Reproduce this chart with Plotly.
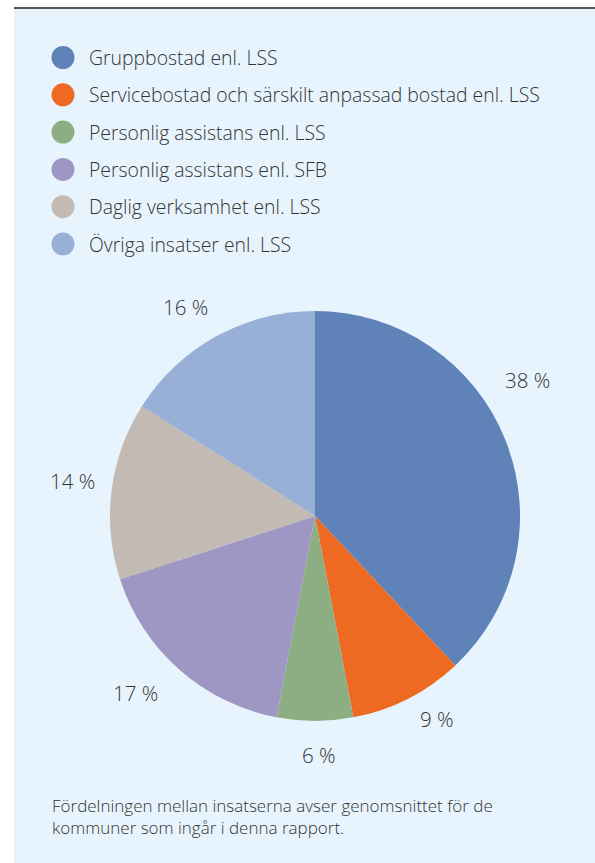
import math
import plotly.graph_objects as go

categories = [
    "Gruppbostad enl. LSS",
    "Servicebostad och särskilt anpassad bostad enl. LSS",
    "Personlig assistans enl. LSS",
    "Personlig assistans enl. SFB",
    "Daglig verksamhet enl. LSS",
    "Övriga insatser enl. LSS",
]
values = [38, 9, 6, 17, 14, 16]
colors = ["#5F82B8", "#EE6A22", "#8DAE82", "#9E97C4", "#C2BAB3", "#98B0D6"]
caption = ("Fördelningen mellan insatserna avser genomsnittet för de<br>"
           "kommuner som ingår i denna rapport.")

# label placement tweaks (layout only): angle nudge in degrees, distance from centre in px
label_nudge_deg = [-11, -4, -1, 4, 1, -3]
label_dist = [252, 237, 239, 252, 245, 246]

W, H = 595, 863
FONT = "Open Sans"
TXT = "#333333"
BG = "#E8F4FD"

cx, cy, R = 315, 516, 205


def px(x):
    return x / W


def py(y):
    return 1 - y / H


fig = go.Figure()
fig.add_trace(go.Pie(
    labels=categories,
    values=values,
    marker=dict(colors=colors, line=dict(width=0)),
    sort=False,
    direction="clockwise",
    rotation=0,
    textinfo="none",
    hoverinfo="label+percent",
    showlegend=False,
    domain=dict(x=[px(cx - R), px(cx + R)], y=[py(cy + R), py(cy - R)]),
))

shapes = [
    dict(type="rect", xref="paper", yref="paper", x0=px(14), x1=1.0,
         y0=0, y1=py(9), fillcolor=BG, line=dict(width=0), layer="below"),
    dict(type="line", xref="paper", yref="paper", x0=px(14), x1=1.0,
         y0=py(8), y1=py(8), line=dict(color="#555555", width=2)),
]
annotations = []

# legend (circles + text)
for i, (name, col) in enumerate(zip(categories, colors)):
    yc = 57.5 + i * 37.3
    shapes.append(dict(type="circle", xref="paper", yref="paper",
                       x0=px(63 - 11.5), x1=px(63 + 11.5),
                       y0=py(yc + 11.5), y1=py(yc - 11.5),
                       fillcolor=col, line=dict(width=0)))
    annotations.append(dict(text=name, x=px(87), y=py(yc), xref="paper", yref="paper",
                            xanchor="left", yanchor="middle", showarrow=False,
                            font=dict(family=FONT, size=19.4, color=TXT, weight=300)))

# percentage labels outside the slices
total = sum(values)
cum = 0
for i, v in enumerate(values):
    mid = (cum + v / 2) / total * 2 * math.pi + math.radians(label_nudge_deg[i])
    cum += v
    lr = label_dist[i]
    lx = cx + lr * math.sin(mid)
    ly = cy - lr * math.cos(mid)
    annotations.append(dict(text=f"{round(v / total * 100)} %", x=px(lx), y=py(ly),
                            xref="paper", yref="paper", xanchor="center", yanchor="middle",
                            showarrow=False,
                            font=dict(family=FONT, size=20.5, color=TXT, weight=300)))

annotations.append(dict(text=caption, x=px(50), y=py(816), xref="paper", yref="paper",
                        xanchor="left", yanchor="middle", align="left", showarrow=False,
                        font=dict(family=FONT, size=17, color=TXT, weight=300)))

fig.update_layout(
    width=W, height=H,
    margin=dict(l=0, r=0, t=0, b=0),
    paper_bgcolor="white",
    plot_bgcolor="white",
    shapes=shapes,
    annotations=annotations,
)

fig.write_html(
    "out.html",
    config={"displayModeBar": False},
    post_script="document.body.style.margin='0';document.body.style.overflow='hidden';",
)
